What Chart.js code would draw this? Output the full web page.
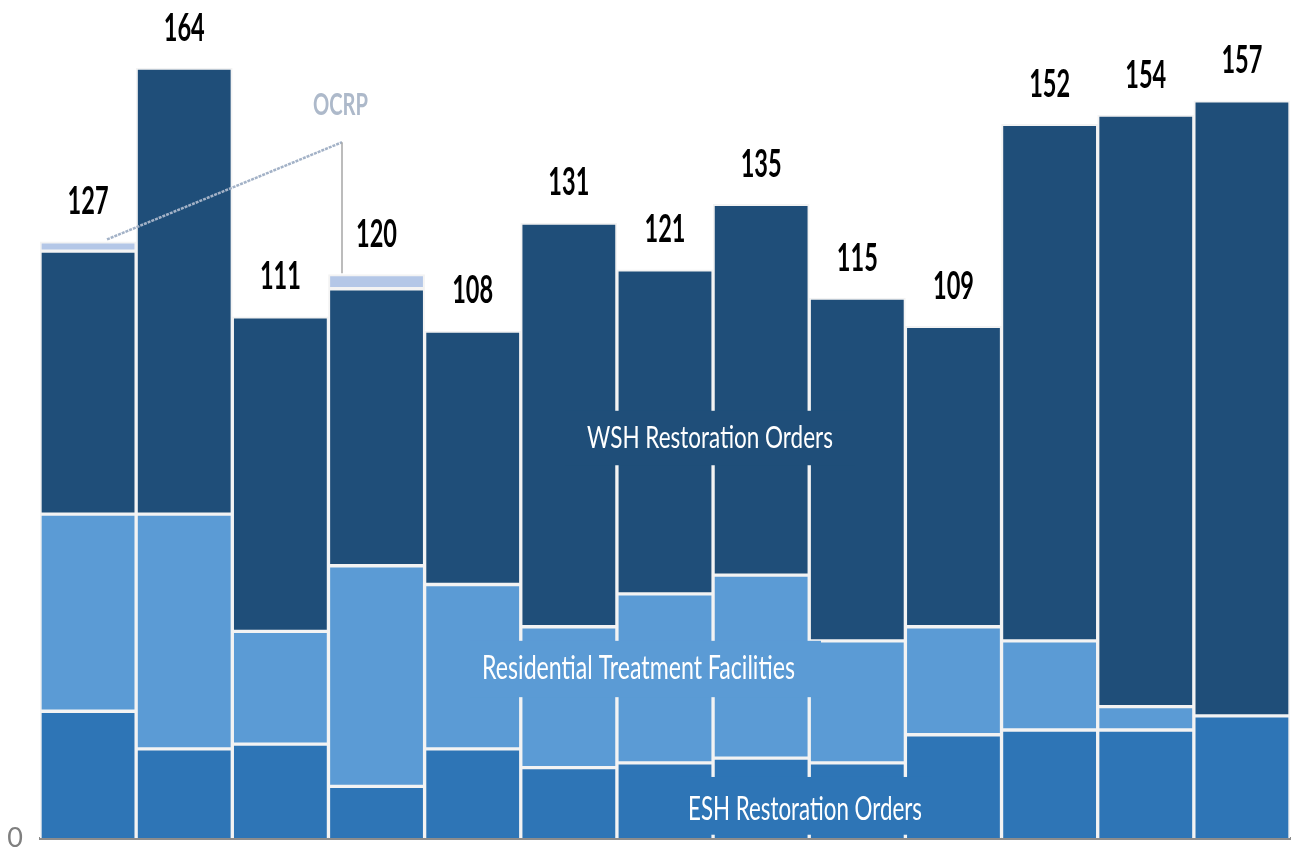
<!DOCTYPE html>
<html>
<head>
<meta charset="utf-8">
<title>Restoration Orders</title>
<script src="https://cdn.jsdelivr.net/npm/chart.js@4.4.1/dist/chart.umd.min.js"></script>
<style>
    html, body { margin: 0; padding: 0; background: #ffffff; }
    #wrap { width: 1296px; height: 849px; position: relative; }
</style>
</head>
<body>
<div id="wrap"><canvas id="chart" width="1296" height="849"></canvas></div>
<script>
// --- DATA ---
const categories = ['1', '2', '3', '4', '5', '6', '7', '8', '9', '10', '11', '12', '13'];
const eshOrders = [27, 19, 20, 11, 19, 15, 16, 17, 16, 22, 23, 23, 26];
const rtfOrders = [42, 50, 24, 47, 35, 30, 36, 39, 26, 23, 19, 5, 0];
const wshOrders = [56, 95, 67, 59, 54, 86, 69, 79, 73, 64, 110, 126, 131];
const ocrpOrders = [2, 0, 0, 3, 0, 0, 0, 0, 0, 0, 0, 0, 0];
const yTickValues = [0];

const seriesNames = ['ESH Restoration Orders', 'Residential Treatment Facilities', 'WSH Restoration Orders', 'OCRP'];
const colors = {
    esh: '#2E75B6',
    rtf: '#5B9BD5',
    wsh: '#1F4E79',
    ocrp: '#B4C7E7',
    ocrpText: '#ADB9CA',
    edge: '#f3f3f3',
    axis: '#8c8c8c'
};

// draw text stretched to a given width and cap height (the source is squashed horizontally)
const drawFitted = (ctx, text, cx, cy, opts) => {
    const family = opts.family || 'Lato';
    const weight = opts.weight || 'normal';
    ctx.save();
    ctx.font = `${weight} 100px ${family}`;
    const sample = opts.sample || text;
    const size = 100 * opts.width / ctx.measureText(sample).width;
    ctx.font = `${weight} ${size}px ${family}`;
    const capH = ctx.measureText('H').actualBoundingBoxAscent || size * 0.72;
    const sy = opts.cap / capH;
    ctx.translate(cx, cy + opts.cap / 2);
    ctx.scale(1, sy);
    ctx.fillStyle = opts.color;
    ctx.textAlign = 'center';
    ctx.textBaseline = 'alphabetic';
    ctx.fillText(text, 0, 0);
    ctx.restore();
};

// --- ANNOTATIONS PLUGIN ---
const annotations = {
    id: 'annotations',
    afterDatasetsDraw(chart) {
        const {ctx, chartArea: a, scales: {y}} = chart;
        const fx = f => a.left + a.width * f;

        // series labels sitting on filled boxes
        const boxes = [
            {text: seriesNames[2], fill: colors.wsh, x0: 0.42, x1: 0.652, v0: 91.0, v1: 79.4, cx: 0.536, cv: 85.5, w: 246, cap: 23},
            {text: seriesNames[1], fill: colors.rtf, x0: 0.344, x1: 0.6248, v0: 42.0, v1: 30.0, cx: 0.4788, cv: 36.4, w: 313, cap: 24},
            {text: seriesNames[0], fill: colors.esh, x0: 0.5104, x1: 0.7136, v0: 13.0, v1: 0.7, cx: 0.612, cv: 6.6, w: 234, cap: 25}
        ];
        boxes.forEach(b => {
            ctx.fillStyle = b.fill;
            const top = y.getPixelForValue(b.v0);
            ctx.fillRect(fx(b.x0), top, fx(b.x1) - fx(b.x0), y.getPixelForValue(b.v1) - top);
            drawFitted(ctx, b.text, fx(b.cx), y.getPixelForValue(b.cv), {width: b.w, cap: b.cap, color: '#ffffff'});
        });

        // OCRP callout
        const elbowX = fx(0.2416), elbowY = y.getPixelForValue(148.2);
        ctx.save();
        ctx.strokeStyle = '#a3b2c7';
        ctx.lineWidth = 2.5;
        ctx.setLineDash([3, 1]);
        ctx.beginPath();
        ctx.moveTo(fx(0.0536), y.getPixelForValue(127.5));
        ctx.lineTo(elbowX, elbowY);
        ctx.stroke();
        ctx.setLineDash([]);
        ctx.strokeStyle = '#a6a6a6';
        ctx.lineWidth = 1.5;
        ctx.beginPath();
        ctx.moveTo(elbowX, elbowY);
        ctx.lineTo(elbowX, y.getPixelForValue(120.3));
        ctx.stroke();
        ctx.restore();
        drawFitted(ctx, seriesNames[3], fx(0.2404), y.getPixelForValue(156.5), {width: 55, cap: 23, color: colors.ocrpText, weight: 'bold'});

        // totals above the bars
        const meta = chart.getDatasetMeta(0);
        categories.forEach((c, i) => {
            const total = chart.data.datasets.reduce((s, d) => s + (d.data[i] || 0), 0);
            drawFitted(ctx, String(total), meta.data[i].x, y.getPixelForValue(total) - 41,
                {width: 41, sample: '000', cap: 27, color: '#000000', weight: 'bold'});
        });
    }
};

// --- CHART ---
const makeSet = (label, data, color, skip) => ({
    label,
    data,
    backgroundColor: color,
    borderColor: colors.edge,
    borderWidth: 2,
    borderSkipped: skip,
    categoryPercentage: 1,
    barPercentage: 1
});

new Chart(document.getElementById('chart').getContext('2d'), {
    type: 'bar',
    data: {
        labels: categories,
        datasets: [
            makeSet(seriesNames[0], eshOrders, colors.esh, 'start'),
            makeSet(seriesNames[1], rtfOrders, colors.rtf, false),
            makeSet(seriesNames[2], wshOrders, colors.wsh, false),
            makeSet(seriesNames[3], ocrpOrders, colors.ocrp, false)
        ]
    },
    options: {
        responsive: false,
        devicePixelRatio: 1,
        animation: false,
        layout: {padding: {top: 0, right: 6, bottom: 0, left: 0}},
        plugins: {legend: {display: false}, tooltip: {enabled: false}},
        scales: {
            x: {
                stacked: true,
                z: 1,
                grid: {display: false},
                ticks: {display: false},
                border: {display: true, color: colors.axis, width: 3},
                afterFit: s => { s.height = 11; s.paddingLeft = 0; s.paddingRight = 0; }
            },
            y: {
                stacked: true,
                min: 0,
                max: 178.5,
                grid: {display: false, drawTicks: false},
                border: {display: false},
                afterBuildTicks: s => { s.ticks = yTickValues.map(v => ({value: v})); },
                ticks: {padding: 17, color: '#7f7f7f', font: {family: 'Lato', size: 27}},
                afterFit: s => { s.width = 40; s.paddingTop = 0; s.paddingBottom = 0; }
            }
        }
    },
    plugins: [annotations]
});
</script>
</body>
</html>
